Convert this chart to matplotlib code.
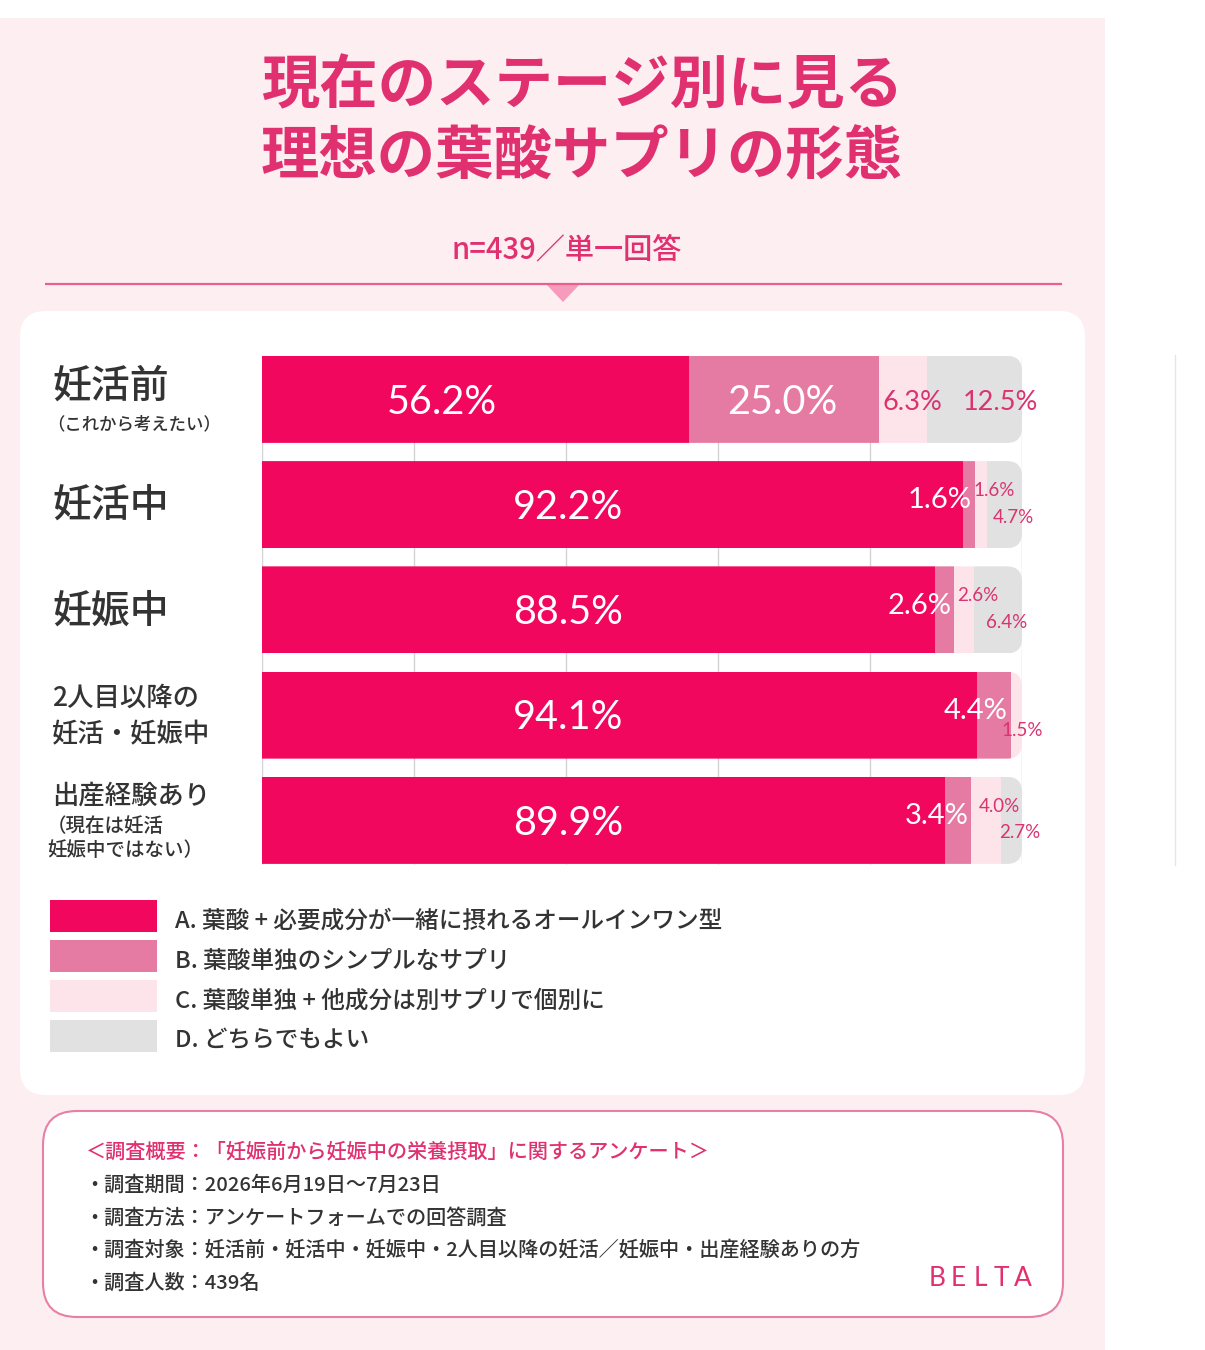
import numpy as np
import matplotlib
matplotlib.use("Agg")
import matplotlib.pyplot as plt
from matplotlib.patches import FancyBboxPatch, Rectangle, Polygon

plt.rcParams['font.family'] = ['Noto Sans CJK JP', 'DejaVu Sans']

# data
stages = ["妊活前", "妊活中", "妊娠中", "2人目以降の\n妊活・妊娠中", "出産経験あり"]
stage_notes = ["（これから考えたい）", "", "", "", "（現在は妊活\n妊娠中ではない）"]
share_a = [56.2, 92.2, 88.5, 94.1, 89.9]
share_b = [25.0, 1.6, 2.6, 4.4, 3.4]
share_c = [6.3, 1.6, 2.6, 1.5, 4.0]
share_d = [12.5, 4.7, 6.4, 0.0, 2.7]
legend_labels = [
    "A. 葉酸 + 必要成分が一緒に摂れるオールインワン型",
    "B. 葉酸単独のシンプルなサプリ",
    "C. 葉酸単独 + 他成分は別サプリで個別に",
    "D. どちらでもよい",
]
title_lines = "現在のステージ別に見る\n理想の葉酸サプリの形態"
subtitle = "n=439／単一回答"
survey_head = "＜調査概要：「妊娠前から妊娠中の栄養摂取」に関するアンケート＞"
survey_lines = [
    "・調査期間：2026年6月19日〜7月23日",
    "・調査方法：アンケートフォームでの回答調査",
    "・調査対象：妊活前・妊活中・妊娠中・2人目以降の妊活／妊娠中・出産経験ありの方",
    "・調査人数：439名",
]
brand = "BELTA"

COL_A = "#f2075f"
COL_B = "#e57ba3"
COL_C = "#fde4eb"
COL_D = "#e1e1e1"
PINK_TXT = "#e0306f"
LABEL_PINK = "#d93370"
DARK = "#333333"
BG = "#fdeef2"
NUM_FONT = ['Lato', 'Noto Sans CJK JP']

W, H = 1205, 1350
fig = plt.figure(figsize=(W / 100, H / 100), dpi=100)
fig.patch.set_facecolor("white")

# background / decoration layer in pixel coordinates
bg = fig.add_axes([0, 0, 1, 1], zorder=0)
bg.set_xlim(0, W)
bg.set_ylim(H, 0)
bg.axis('off')
bg.add_patch(Rectangle((0, 18), 1105, H - 18, color=BG, lw=0))
bg.add_patch(FancyBboxPatch((20, 311), 1065, 784, boxstyle="round,pad=0,rounding_size=26",
                            fc="white", ec="none"))
bg.plot([1175, 1175], [355, 865], color="#e6e6e6", lw=1)

bg.text(582, 122, title_lines, ha='center', va='center', fontsize=42, fontweight='bold',
        color=PINK_TXT, linespacing=1.25)
bg.text(567, 250, subtitle, ha='center', va='center', fontsize=21, fontweight='medium',
        color=PINK_TXT)
bg.plot([45, 1062], [284, 284], color="#ea5f8f", lw=1.6, solid_capstyle='butt')
bg.add_patch(Polygon([[546, 284], [580, 284], [563, 302]], closed=True, fc="#f69bbb", ec="none"))

# legend
leg_cols = [COL_A, COL_B, COL_C, COL_D]
for k, (lab, col) in enumerate(zip(legend_labels, leg_cols)):
    y0 = 900 + k * 40
    bg.add_patch(Rectangle((50, y0), 107, 32, fc=col, ec="none"))
    bg.text(175, y0 + 21, lab, ha='left', va='center', fontsize=17, fontweight='medium',
            color=DARK)

# survey box
bg.add_patch(FancyBboxPatch((43, 1111), 1020, 206, boxstyle="round,pad=0,rounding_size=34",
                            fc="white", ec="#e87fa6", lw=1.5))
bg.text(86, 1152, survey_head, ha='left', va='center', fontsize=14.5, fontweight='medium',
        color=PINK_TXT)
for k, line in enumerate(survey_lines):
    bg.text(84, 1185 + k * 32.5, line, ha='left', va='center', fontsize=14.5,
            fontweight='medium', color=DARK)
for k, ch in enumerate(brand):
    bg.text(937 + k * 21.5, 1278, ch, ha='center', va='center', fontsize=19,
            family=NUM_FONT, color=PINK_TXT)

# chart axes: 0-100% maps to x 262..1022 px, rows spaced 105.25 px
ax = fig.add_axes([262 / W, (H - 873) / H, 760 / W, 526.25 / H], zorder=1)
ax.set_xlim(0, 100)
ax.set_ylim(4.5, -0.5)
ax.axis('off')

bar_h = 0.827
rows = np.arange(len(stages))
ax.vlines(np.arange(0, 101, 20), -bar_h / 2, len(stages) - 1 + bar_h / 2,
          color="#d3d3d3", lw=1, zorder=0)

a = np.array(share_a)
b = np.array(share_b)
c = np.array(share_c)
d = np.array(share_d)
segs = [(a, np.zeros_like(a), COL_A), (b, a, COL_B), (c, a + b, COL_C), (d, a + b + c, COL_D)]

for i in rows:
    clip = FancyBboxPatch((-10, i - bar_h / 2), 110, bar_h,
                          boxstyle="round,pad=0,rounding_size=2.0",
                          mutation_aspect=7.6 / 105.25, transform=ax.transData)
    for vals, left, col in segs:
        if vals[i] <= 0:
            continue
        r = ax.barh(i, vals[i], left=left[i], height=bar_h, color=col, lw=0, zorder=2)
        r[0].set_clip_path(clip)


def pct(v):
    return f"{v:.1f}%"


for i in rows:
    ai, bi, ci, di = a[i], b[i], c[i], d[i]
    # A label
    ax_x = 40.3 if ai > 70 else 0.42 * ai
    ax.annotate(pct(ai), (ax_x, i), xytext=(0, -2), textcoords='offset points',
                ha='center', va='center', fontsize=28.5, color='white', family=NUM_FONT, zorder=4)
    if bi >= 10:
        ax.annotate(pct(bi), (ai + bi / 2, i), xytext=(-1, -2), textcoords='offset points',
                    ha='center', va='center', fontsize=28.5, color='white', family=NUM_FONT, zorder=4)
        ax.annotate(pct(ci), (ai + bi + ci / 2, i), xytext=(7, -2), textcoords='offset points',
                    ha='center', va='center', fontsize=19.5, color=LABEL_PINK, family=NUM_FONT, zorder=4)
        ax.annotate(pct(di), (ai + bi + ci + di / 2, i), xytext=(19, -2), textcoords='offset points',
                    ha='center', va='center', fontsize=19.5, color=LABEL_PINK, family=NUM_FONT, zorder=4)
    else:
        ax.annotate(pct(bi), (ai + bi, i), xytext=(-2, 3), textcoords='offset points',
                    ha='right', va='center', fontsize=21, color='white', family=NUM_FONT, zorder=4)
        if di > 0:
            ax.annotate(pct(ci), (ai + bi + ci / 2, i), xytext=(9.5, 10), textcoords='offset points',
                        ha='center', va='center', fontsize=13.5, color=LABEL_PINK, family=NUM_FONT, zorder=4)
            ax.annotate(pct(di), (ai + bi + ci + di / 2, i), xytext=(6, -9), textcoords='offset points',
                        ha='center', va='center', fontsize=13.5, color=LABEL_PINK, family=NUM_FONT, zorder=4)
        else:
            ax.annotate(pct(ci), (ai + bi + ci / 2, i), xytext=(4.5, -11), textcoords='offset points',
                        ha='center', va='center', fontsize=13.5, color=LABEL_PINK, family=NUM_FONT, zorder=4)

# stage labels on the left
for i, (name, note) in enumerate(zip(stages, stage_notes)):
    multi = "\n" in name
    big = 19 if (multi or len(name) > 3) else 28
    if note and not multi:
        name_dy = 9 if big == 28 else 17.5
    else:
        name_dy = -1
    ax.annotate(name, (52, i), xycoords=('figure pixels', 'data'), xytext=(0, name_dy),
                textcoords='offset points', ha='left', va='center', fontsize=big,
                fontweight='medium', color=DARK, linespacing=1.42, annotation_clip=False)
    if note:
        note_size = 12.5 if "\n" not in note else 14
        note_dy = -18 if "\n" not in note else -13
        ax.annotate(note, (47, i), xycoords=('figure pixels', 'data'), xytext=(0, note_dy),
                    textcoords='offset points', ha='left', va='center', fontsize=note_size,
                    fontweight='medium', color=DARK, linespacing=1.38, annotation_clip=False)

fig.savefig("out.png", dpi=100, facecolor=fig.get_facecolor())
